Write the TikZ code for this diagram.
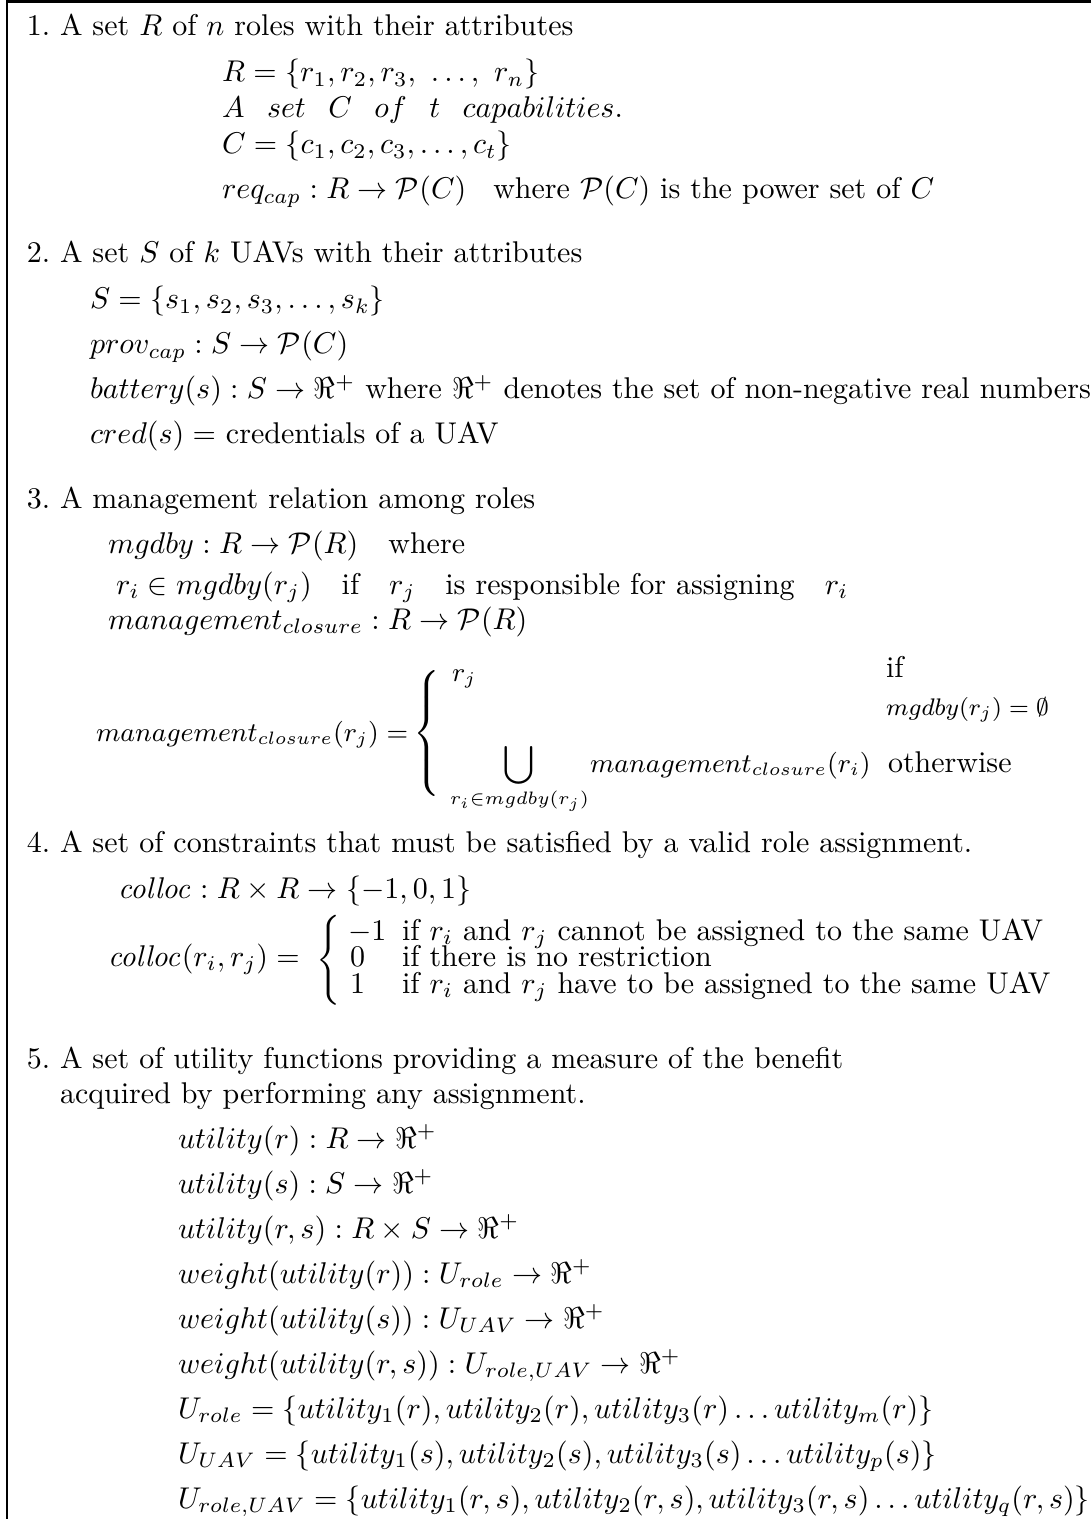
\documentclass[tikz,border=0pt]{standalone}
\usepackage{amsmath,amssymb}
\begin{document}
\begin{tikzpicture}[x=0.33333pt,y=-0.33333pt,
  txt/.style={anchor=base west,inner sep=0pt,outer sep=0pt,font=\fontsize{10}{12}\selectfont},
  small/.style={txt,font=\fontsize{9}{11}\selectfont},
  smaller/.style={txt,font=\fontsize{8.5}{10}\selectfont},
  delim/.style={anchor=west,inner sep=0pt,outer sep=0pt,font=\fontsize{10}{12}\selectfont},
  frameline/.style={line width=0.7pt}]
\useasboundingbox (0,0) rectangle (1091,1519);
% open frame: top and left edges only
\coordinate (tl) at (7,1.5);
\coordinate (tr) at (1091,1.5);
\coordinate (bl) at (7,1519);
\draw[frameline] (tr) -- (tl) -- (bl);

% 1. roles
\node[txt] (n1) at (27,36) {1.};
\node[txt] (h1) at (60,36) {A set $R$ of $n$ roles with their attributes};
\node[txt] (a1) at (222,82) {$R=\{r_1,r_2,r_3,\ \ldots,\ r_n\}$};
\node[txt] (a2) at (222,118) {$A\hspace{7.5pt}set\hspace{7.5pt}C\hspace{7.5pt}of\hspace{7.5pt}t\hspace{7.5pt}capabilities.$};
\node[txt] (a3) at (222,154) {$C=\{c_1,c_2,c_3,\ldots,c_t\}$};
\node[txt] (a4) at (222,199) {$req_{cap}:R\rightarrow\mathcal{P}(C)$\hspace{9pt}where $\mathcal{P}(C)$ is the power set of $C$};

% 2. UAVs
\node[txt] (n2) at (27,263) {2.};
\node[txt] (h2) at (60,263) {A set $S$ of $k$ UAVs with their attributes};
\node[txt] (b1) at (90,309) {$S=\{s_1,s_2,s_3,\ldots,s_k\}$};
\node[txt] (b2) at (90,354) {$prov_{cap}:S\rightarrow\mathcal{P}(C)$};
\node[txt] (b3) at (90,399) {$battery(s):S\rightarrow\Re^{+}$ where $\Re^{+}$ denotes the set of non-negative real numbers};
\node[txt] (b4) at (90,444) {$cred(s)=$ credentials of a UAV};

% 3. management relation
\node[txt] (n3) at (27,509) {3.};
\node[txt] (h3) at (60,509) {A management relation among roles};
\node[txt] (c1) at (108,554) {$mgdby:R\rightarrow\mathcal{P}(R)$\hspace{10pt}where};
\node[txt] (c2) at (116,594) {$r_i\in mgdby(r_j)$\hspace{10pt}if\hspace{10pt}$r_j$\hspace{10pt}is responsible for assigning\hspace{10pt}$r_i$};
\node[txt] (c3) at (108,629) {$management_{closure}:R\rightarrow\mathcal{P}(R)$};
% piecewise definition of the closure
\node[small] (c4) at (96,741) {$management_{closure}(r_j)=$};
\node[delim] (c5) at (413,733) {$\left\{\vcenter{\hbox{\rule{0pt}{45pt}}}\right.$};
\node[small] (c6) at (452,681) {$r_j$};
\node[txt] (c7) at (886,677) {if};
\node[smaller] (c8) at (886,715) {$mgdby(r_j)=\emptyset$};
\node[small] (c9) at (450,772) {$\displaystyle\bigcup_{r_i\in mgdby(r_j)}$};
\node[small] (c10) at (590,772) {$management_{closure}(r_i)$};
\node[txt] (c11) at (888,772) {otherwise};

% 4. constraints
\node[txt] (n4) at (27,852) {4.};
\node[txt] (h4) at (60,852) {A set of constraints that must be satisfied by a valid role assignment.};
\node[txt] (d1) at (118,898) {$\mathit{colloc}:R\times R\rightarrow\{-1,0,1\}$};
\node[txt] (d2) at (108,966) {$\mathit{colloc}(r_i,r_j)=$};
\node[delim] (d3) at (316,960) {$\left\{\vcenter{\hbox{\rule{0pt}{27pt}}}\right.$};
\node[txt] (d4) at (348,940) {$-1$};
\node[txt] (d5) at (402,940) {if $r_i$ and $r_j$ cannot be assigned to the same UAV};
\node[txt] (d6) at (350,966) {$0$};
\node[txt] (d7) at (402,966) {if there is no restriction};
\node[txt] (d8) at (350,993) {$1$};
\node[txt] (d9) at (402,993) {if $r_i$ and $r_j$ have to be assigned to the same UAV};

% 5. utility functions
\node[txt] (n5) at (27,1068) {5.};
\node[txt] (h5) at (60,1068) {A set of utility functions providing a measure of the benefit};
\node[txt] (h5b) at (60,1103) {acquired by performing any assignment.};
\node[txt] (e1) at (178,1148) {$utility(r):R\rightarrow\Re^{+}$};
\node[txt] (e2) at (178,1193) {$utility(s):S\rightarrow\Re^{+}$};
\node[txt] (e3) at (178,1238) {$utility(r,s):R\times S\rightarrow\Re^{+}$};
\node[txt] (e4) at (178,1283) {$weight(utility(r)):U_{role}\rightarrow\Re^{+}$};
\node[txt] (e5) at (178,1328) {$weight(utility(s)):U_{UAV}\rightarrow\Re^{+}$};
\node[txt] (e6) at (178,1373) {$weight(utility(r,s)):U_{role,UAV}\rightarrow\Re^{+}$};
\node[txt] (e7) at (178,1418) {$U_{role}=\{utility_1(r),utility_2(r),utility_3(r)\ldots utility_m(r)\}$};
\node[txt] (e8) at (178,1463) {$U_{UAV}=\{utility_1(s),utility_2(s),utility_3(s)\ldots utility_p(s)\}$};
\node[txt] (e9) at (178,1508) {$U_{role,UAV}=\{utility_1(r,s),utility_2(r,s),utility_3(r,s)\ldots utility_q(r,s)\}$};
\end{tikzpicture}
\end{document}
